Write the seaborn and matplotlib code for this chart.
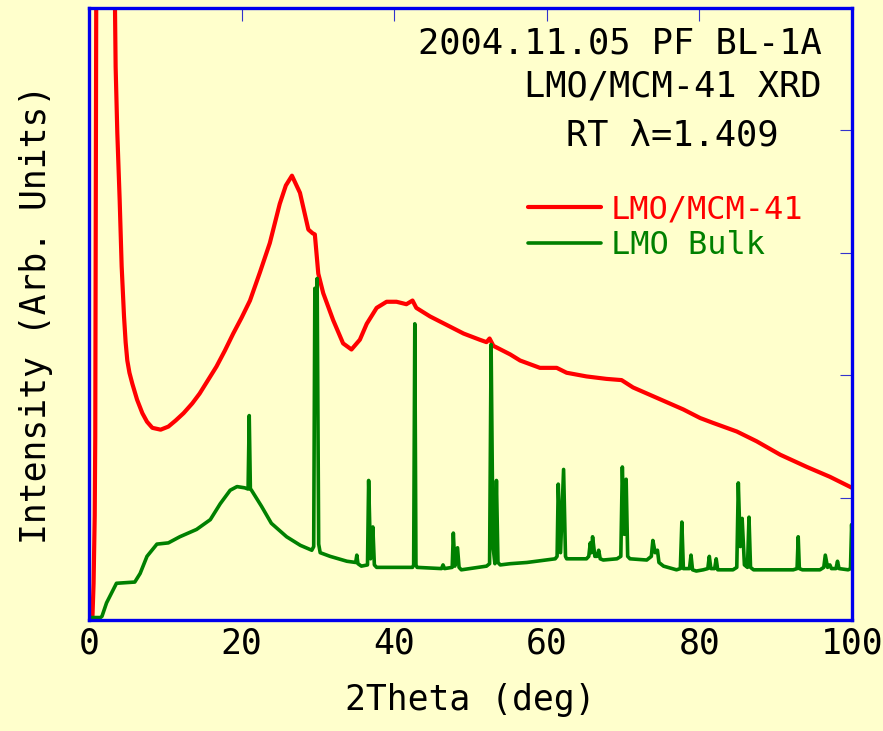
import matplotlib
matplotlib.use("Agg")
import matplotlib.pyplot as plt
import seaborn as sns
import pandas as pd

# LMO/MCM-41 composite pattern (2theta in deg, arbitrary intensity)
mcm_2theta = [0.0, 0.45, 0.6, 0.75, 0.82, 0.95, 2.0, 3.3, 3.41, 3.49, 3.71, 4.02, 4.28, 4.59,
              4.8, 5.02, 5.3, 5.68, 6.3, 6.99, 7.6, 8.3, 9.39, 10.4, 11.36, 12.4, 13.54, 14.5,
              15.5, 16.7, 17.8, 18.9, 20.0, 21.1, 22.4, 23.7,
              25.0, 25.8, 26.6, 27.65, 28.75, 29.3, 29.6, 30.05, 30.7, 32.0, 33.3, 34.4, 35.5, 36.4,
              37.7, 39.0, 40.3, 41.6, 42.4, 42.9, 44.7, 46.9, 49.1, 51.2, 52.1, 52.5, 53.0,
              55.2, 56.5, 59.1, 61.3, 62.6, 65.2, 67.8, 69.8, 71.3, 73.5, 75.7, 77.9, 80.1,
              81.8, 84.9, 87.5, 90.6, 94.1, 97.1, 100.0]
mcm_intensity = [0.02, 0.02, 0.3, 0.85, 1.5, 5.1, 12.0, 5.3, 4.98, 4.52, 3.98, 3.43, 2.89, 2.48,
                 2.27, 2.12, 2.02, 1.93, 1.80, 1.69, 1.62, 1.57, 1.555, 1.58, 1.63, 1.69, 1.77, 1.85,
                 1.95, 2.07, 2.20, 2.34, 2.47, 2.61, 2.84, 3.08,
                 3.40, 3.55, 3.63, 3.49, 3.19, 3.16, 3.15, 2.83, 2.67, 2.45, 2.26, 2.21, 2.29, 2.42,
                 2.55, 2.60, 2.60, 2.58, 2.61, 2.55, 2.48, 2.41, 2.34, 2.29, 2.27, 2.30, 2.24,
                 2.17, 2.12, 2.06, 2.06, 2.02, 1.99, 1.97, 1.96, 1.90, 1.84, 1.78, 1.72, 1.65,
                 1.61, 1.54, 1.46, 1.35, 1.25, 1.17, 1.08]

# Bulk LMO pattern
bulk_2theta = [0.0, 1.5, 1.7, 2.3, 3.6, 6.0, 6.7, 7.6, 8.9, 10.4, 11.9, 14.1, 15.9, 17.2, 18.5,
               19.4, 20.4,
               20.85, 21.0, 21.15,
               21.3, 22.6, 23.9, 25.9, 27.7, 29.2,
               29.45, 29.6, 29.7, 29.9, 30.1,
               30.3, 31.6, 33.8,
               34.95, 35.1, 35.25,
               35.7,
               36.5, 36.65, 36.9, 37.2, 37.4,
               37.7, 40.3, 42.4,
               42.55, 42.7, 42.85,
               43.0, 46.2, 46.4, 46.6,
               47.6, 47.75, 47.95, 48.3, 48.5,
               48.8, 52.1,
               52.5, 52.7, 52.95, 53.2, 53.4, 53.6,
               53.9, 55.2, 57.4, 61.1,
               61.35, 61.5, 61.8, 62.2, 62.45,
               62.6, 65.2,
               65.5, 65.7, 65.85, 66.0, 66.3, 66.6, 66.8, 67.0,
               67.4, 69.2,
               69.7, 69.9, 70.15, 70.4, 70.6,
               70.9, 73.1,
               73.7, 73.9, 74.2, 74.5, 74.7,
               75.3, 77.0,
               77.5, 77.7, 77.9,
               78.7, 78.9, 79.1,
               79.6, 80.5,
               81.1, 81.3, 81.5, 82.0, 82.2, 82.4,
               84.4,
               84.9, 85.1, 85.35, 85.6, 85.9, 86.3, 86.5, 86.7,
               87.1, 92.3,
               92.8, 92.95, 93.1,
               93.5, 95.8,
               96.3, 96.5, 96.8, 97.1, 97.3, 97.9, 98.1, 98.3,
               99.5, 99.8, 99.95, 100.0]
bulk_intensity = [0.02, 0.02, 0.03, 0.14, 0.30, 0.31, 0.38, 0.52, 0.62, 0.63, 0.68, 0.74, 0.82,
                  0.95, 1.06, 1.09, 1.08,
                  1.07, 1.67, 1.07,
                  1.06, 0.93, 0.79, 0.68, 0.61, 0.57,
                  0.60, 2.71, 2.45, 2.79, 0.62,
                  0.55, 0.52, 0.48,
                  0.47, 0.53, 0.46,
                  0.44,
                  0.45, 1.14, 0.50, 0.76, 0.45,
                  0.43, 0.43, 0.43,
                  0.45, 2.42, 0.45,
                  0.43, 0.42, 0.45, 0.42,
                  0.43, 0.71, 0.44, 0.59, 0.43,
                  0.41, 0.44,
                  0.46, 2.25, 0.60, 0.46, 1.14, 0.47,
                  0.45, 0.46, 0.47, 0.50,
                  0.52, 1.11, 0.55, 1.23, 0.52,
                  0.50, 0.50,
                  0.52, 0.63, 0.55, 0.68, 0.52, 0.52, 0.57, 0.50,
                  0.49, 0.50,
                  0.52, 1.25, 0.70, 1.15, 0.52,
                  0.50, 0.49,
                  0.52, 0.65, 0.55, 0.57, 0.47,
                  0.44, 0.41,
                  0.42, 0.80, 0.42,
                  0.42, 0.53, 0.41,
                  0.40, 0.41,
                  0.42, 0.52, 0.42, 0.42, 0.50, 0.41,
                  0.41,
                  0.43, 1.12, 0.60, 0.83, 0.45, 0.43, 0.84, 0.43,
                  0.41, 0.41,
                  0.42, 0.68, 0.42,
                  0.41, 0.41,
                  0.43, 0.53, 0.43, 0.45, 0.42, 0.42, 0.48, 0.42,
                  0.41, 0.42, 0.78, 0.70]

x_ticks = [0, 20, 40, 60, 80, 100]
y_ticks = [1, 2, 3, 4]
series_labels = ["LMO/MCM-41", "LMO Bulk"]
series_colors = ["#FF0000", "#008000"]
header_lines = ["2004.11.05 PF BL-1A", "LMO/MCM-41 XRD", "RT \u03bb=1.409"]

sns.set_style("white")
mono = ["DejaVu Sans Mono", "DejaVu Sans"]
plt.rcParams["font.family"] = mono
plt.rcParams["text.color"] = "black"
plt.rcParams["axes.labelcolor"] = "black"

bg = "#FFFFCC"
W, H = 883, 731
fig = plt.figure(figsize=(W / 100, H / 100), dpi=100, facecolor=bg)
ax = fig.add_axes([89 / W, 1 - 620 / H, (852 - 89) / W, (620 - 8) / H])
ax.set_facecolor(bg)

df_mcm = pd.DataFrame({"2theta": mcm_2theta, "I": mcm_intensity})
df_bulk = pd.DataFrame({"2theta": bulk_2theta, "I": bulk_intensity})

sns.lineplot(data=df_mcm, x="2theta", y="I", ax=ax, color=series_colors[0], lw=3.0,
             label=series_labels[0], estimator=None, sort=False)
sns.lineplot(data=df_bulk, x="2theta", y="I", ax=ax, color=series_colors[1], lw=2.6,
             label=series_labels[1], estimator=None, sort=False)

ax.set_xlim(0, 100)
ax.set_ylim(0, 5)
ax.set_xticks(x_ticks)
ax.set_yticks(y_ticks)
ax.set_yticklabels([])
ax.tick_params(axis="both", direction="in", length=9, width=0.8, color="#3333CC",
               labelcolor="black", top=True, right=True, labelsize=25, pad=5)
for s in ax.spines.values():
    s.set_color("#0000EE")
    s.set_linewidth(2.4)

ax.set_xlabel("2Theta (deg)", fontsize=25, labelpad=16, color="black")
ax.set_ylabel("Intensity (Arb. Units)", fontsize=25, labelpad=21, color="black")

# header text block
fig.text(822 / W, 1 - 44 / H, header_lines[0], fontsize=25.5, ha="right", va="center",
         color="black")
fig.text(822 / W, 1 - 87 / H, header_lines[1], fontsize=25.5, ha="right", va="center",
         color="black")
fig.text(672 / W, 1 - 136 / H, header_lines[2], fontsize=25.5, ha="center", va="center",
         color="black")

leg = ax.legend(loc="upper left", bbox_to_anchor=(528 / W, 1 - 194 / H),
                bbox_transform=fig.transFigure, frameon=False, fontsize=23,
                handlelength=2.3, handletextpad=0.3, labelspacing=0.15,
                borderpad=0, borderaxespad=0, labelcolor="linecolor")

fig.savefig("out.png", dpi=100, facecolor=bg)
